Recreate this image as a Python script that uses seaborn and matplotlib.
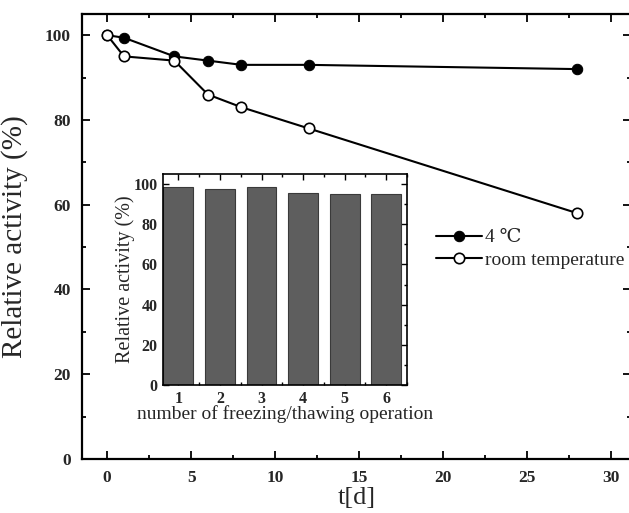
import matplotlib
matplotlib.use("Agg")
import matplotlib.pyplot as plt
from matplotlib.ticker import MultipleLocator
import seaborn as sns
import pandas as pd

# Storage stability over time
days = [0, 1, 4, 6, 8, 12, 28]
activity_4c = [100, 99.4, 95, 94, 93, 93, 92]
activity_room = [100, 95, 94, 86, 83, 78, 58]
series_labels = ["4 \u2103", "room temperature"]

# Freeze/thaw stability
cycles = [1, 2, 3, 4, 5, 6]
activity_cycles = [98.7, 97.5, 98.7, 95.7, 94.9, 94.9]

sns.set_theme(style="ticks")
plt.rcParams["font.family"] = ["Liberation Serif", "DejaVu Serif"]

fig = plt.figure(figsize=(6.29, 5.13), dpi=100)
ax = fig.add_axes([82 / 629, 54 / 513, 549 / 629, 445 / 513])

df = pd.DataFrame({"t": days + days,
                   "act": activity_4c + activity_room,
                   "cond": [series_labels[0]] * len(days) + [series_labels[1]] * len(days)})

sns.lineplot(data=df[df.cond == series_labels[0]], x="t", y="act", ax=ax,
             color="black", lw=1.5, marker="o", markersize=7.5,
             markerfacecolor="black", markeredgecolor="black",
             label=series_labels[0])
sns.lineplot(data=df[df.cond == series_labels[1]], x="t", y="act", ax=ax,
             color="black", lw=1.5, marker="o", markersize=7.5,
             markerfacecolor="white", markeredgecolor="black", markeredgewidth=1.2,
             label=series_labels[1])

ax.set_xlim(-1.5, 31.2)
ax.set_ylim(0, 105)
ax.xaxis.set_major_locator(MultipleLocator(5))
ax.xaxis.set_minor_locator(MultipleLocator(2.5))
ax.yaxis.set_major_locator(MultipleLocator(20))
ax.yaxis.set_minor_locator(MultipleLocator(10))
ax.tick_params(which="both", direction="in", top=True, right=True, width=1.3, color="black")
ax.tick_params(which="major", length=6, labelsize=12.5, pad=8)
ax.tick_params(which="minor", length=3)
for lab in ax.get_xticklabels() + ax.get_yticklabels():
    lab.set_fontweight("bold")
for sp in ax.spines.values():
    sp.set_linewidth(1.6)
    sp.set_color("black")

ax.set_xlabel("t[d]", fontsize=19, labelpad=1)
ax.set_ylabel("Relative activity (%)", fontsize=21, labelpad=12)

leg = ax.legend(loc="upper left", bbox_to_anchor=(428 / 629, 1 - 221 / 513),
                bbox_transform=fig.transFigure, frameon=False, fontsize=14,
                handlelength=2.4, handletextpad=0.15, labelspacing=0.25, borderaxespad=0)

# Inset bar chart
ins = fig.add_axes([163 / 629, 128 / 513, 244 / 629, 211 / 513])
sns.barplot(x=cycles, y=activity_cycles, ax=ins, native_scale=True, width=0.72,
            color="#5e5e5e", edgecolor="#3a3a3a", linewidth=0.8, saturation=1)
ins.set_xlim(0.63, 6.5)
ins.set_ylim(0, 105)
ins.set_xticks(cycles)
ins.xaxis.set_minor_locator(MultipleLocator(0.5))
ins.yaxis.set_major_locator(MultipleLocator(20))
ins.yaxis.set_minor_locator(MultipleLocator(10))
ins.tick_params(which="both", direction="in", top=True, right=True, width=1.0, color="black")
ins.tick_params(which="major", length=4, labelsize=11.5, pad=4)
ins.tick_params(which="minor", length=2)
for lab in ins.get_xticklabels() + ins.get_yticklabels():
    lab.set_fontweight("bold")
for sp in ins.spines.values():
    sp.set_linewidth(1.2)
    sp.set_color("black")
ins.set_xlabel("number of freezing/thawing operation", fontsize=14, labelpad=-1)
ins.set_ylabel("Relative activity (%)", fontsize=14.5, labelpad=-1)

fig.savefig("out.png", dpi=100)
